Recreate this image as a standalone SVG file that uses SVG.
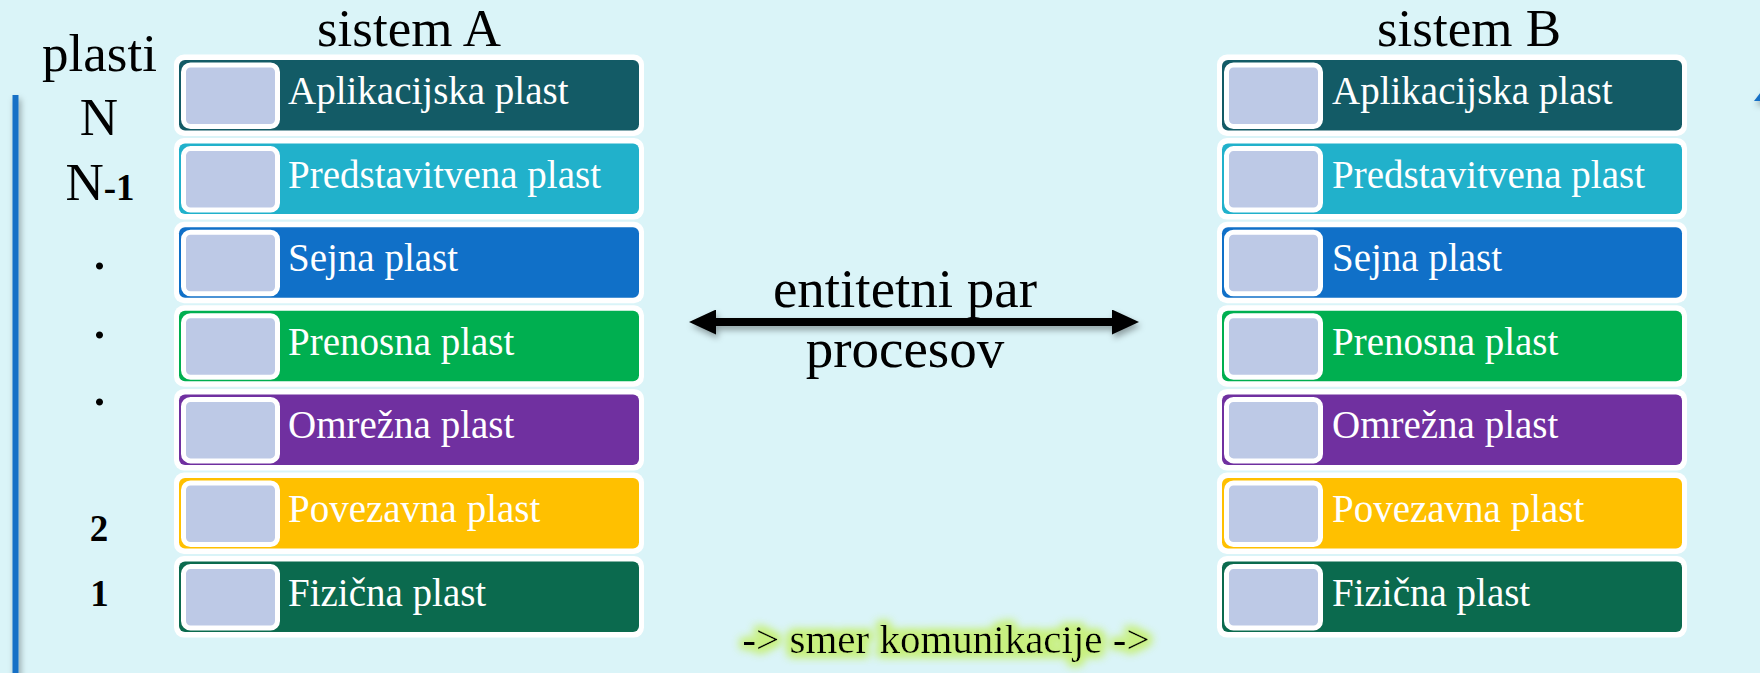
<svg xmlns="http://www.w3.org/2000/svg" width="1760" height="673" viewBox="0 0 1760 673">
<defs>
<style>
.bg{fill:#daf4f8}
.ring{fill:#ffffff}
.sq{fill:#bdc9e6;stroke:#ffffff;stroke-width:5}
.lbl{font-family:"Liberation Serif","Times New Roman",serif;font-size:39px;fill:#ffffff}
.big{font-family:"Liberation Serif","Times New Roman",serif;font-size:53px;fill:#000000}
.num{font-family:"Liberation Serif","Times New Roman",serif;font-size:37px;font-weight:bold;fill:#000000}
.c1{fill:#135b66}.c2{fill:#21b1cb}.c3{fill:#1070c8}.c4{fill:#00af50}.c5{fill:#7030a0}.c6{fill:#ffc000}.c7{fill:#0b6a4e}
</style>
<filter id="shadow" filterUnits="userSpaceOnUse" x="0" y="0" width="1760" height="673">
<feDropShadow dx="2" dy="4" stdDeviation="3" flood-color="#000" flood-opacity="0.35"/>
</filter>
<filter id="glow" x="-10%" y="-60%" width="120%" height="220%">
<feMorphology in="SourceAlpha" operator="dilate" radius="3" result="d"/>
<feGaussianBlur in="d" stdDeviation="5" result="b"/>
<feFlood flood-color="#c8f07f" result="f"/>
<feComposite in="f" in2="b" operator="in" result="g"/>
<feMerge><feMergeNode in="g"/><feMergeNode in="g"/><feMergeNode in="SourceGraphic"/></feMerge>
</filter>
<marker id="head" markerUnits="userSpaceOnUse" markerWidth="27" markerHeight="25" viewBox="0 0 27 25" refX="16" refY="12.5" orient="auto-start-reverse">
<path d="M0,0 L27,12.5 L0,25 z" fill="#000"/>
</marker>
</defs>
<rect class="bg" x="0" y="0" width="1760" height="673"/>

<g id="side-line" filter="url(#shadow)">
<line x1="15.5" y1="95" x2="15.5" y2="680" stroke="#1570c6" stroke-width="6"/>
<polygon points="1764,88 1754,101 1774,101" fill="#1570c6"/>
</g>

<g id="title-A"><text class="big" x="409" y="45.5" text-anchor="middle">sistem A</text></g>
<g id="title-B"><text class="big" x="1469" y="45.5" text-anchor="middle">sistem B</text></g>

<g id="layer-index">
<text class="big" x="99.5" y="71" text-anchor="middle">plasti</text>
<text class="big" x="99" y="135" text-anchor="middle">N</text>
<text class="big" x="100" y="200" text-anchor="middle">N<tspan class="num" style="font-size:37px">-1</tspan></text>
<text class="big" x="99.5" y="269" text-anchor="middle" style="font-size:60px">.</text>
<text class="big" x="99.5" y="338" text-anchor="middle" style="font-size:60px">.</text>
<text class="big" x="99.5" y="405" text-anchor="middle" style="font-size:60px">.</text>
<text class="num" x="99" y="541" text-anchor="middle">2</text>
<text class="num" x="99.5" y="606" text-anchor="middle">1</text>
</g>

<g id="stack-A">
<g id="A-app" transform="translate(179,60)"><rect class="ring" x="-5" y="-5.5" width="470" height="81.5" rx="10"/><rect class="c1" width="460" height="70.5" rx="6"/><rect class="sq" x="4.5" y="5" width="94" height="61.5" rx="7"/><text class="lbl" x="109" y="44">Aplikacijska plast</text></g>
<g id="A-pres" transform="translate(179,143.6)"><rect class="ring" x="-5" y="-5.5" width="470" height="81.5" rx="10"/><rect class="c2" width="460" height="70.5" rx="6"/><rect class="sq" x="4.5" y="5" width="94" height="61.5" rx="7"/><text class="lbl" x="109" y="44">Predstavitvena plast</text></g>
<g id="A-sess" transform="translate(179,227.2)"><rect class="ring" x="-5" y="-5.5" width="470" height="81.5" rx="10"/><rect class="c3" width="460" height="70.5" rx="6"/><rect class="sq" x="4.5" y="5" width="94" height="61.5" rx="7"/><text class="lbl" x="109" y="44">Sejna plast</text></g>
<g id="A-trans" transform="translate(179,310.8)"><rect class="ring" x="-5" y="-5.5" width="470" height="81.5" rx="10"/><rect class="c4" width="460" height="70.5" rx="6"/><rect class="sq" x="4.5" y="5" width="94" height="61.5" rx="7"/><text class="lbl" x="109" y="44">Prenosna plast</text></g>
<g id="A-net" transform="translate(179,394.4)"><rect class="ring" x="-5" y="-5.5" width="470" height="81.5" rx="10"/><rect class="c5" width="460" height="70.5" rx="6"/><rect class="sq" x="4.5" y="5" width="94" height="61.5" rx="7"/><text class="lbl" x="109" y="44">Omrežna plast</text></g>
<g id="A-link" transform="translate(179,478)"><rect class="ring" x="-5" y="-5.5" width="470" height="81.5" rx="10"/><rect class="c6" width="460" height="70.5" rx="6"/><rect class="sq" x="4.5" y="5" width="94" height="61.5" rx="7"/><text class="lbl" x="109" y="44">Povezavna plast</text></g>
<g id="A-phys" transform="translate(179,561.6)"><rect class="ring" x="-5" y="-5.5" width="470" height="81.5" rx="10"/><rect class="c7" width="460" height="70.5" rx="6"/><rect class="sq" x="4.5" y="5" width="94" height="61.5" rx="7"/><text class="lbl" x="109" y="44">Fizična plast</text></g>
</g>

<g id="stack-B">
<g id="B-app" transform="translate(1222,60)"><rect class="ring" x="-5" y="-5.5" width="470" height="81.5" rx="10"/><rect class="c1" width="460" height="70.5" rx="6"/><rect class="sq" x="4.5" y="5" width="94" height="61.5" rx="7"/><text class="lbl" x="110" y="44">Aplikacijska plast</text></g>
<g id="B-pres" transform="translate(1222,143.6)"><rect class="ring" x="-5" y="-5.5" width="470" height="81.5" rx="10"/><rect class="c2" width="460" height="70.5" rx="6"/><rect class="sq" x="4.5" y="5" width="94" height="61.5" rx="7"/><text class="lbl" x="110" y="44">Predstavitvena plast</text></g>
<g id="B-sess" transform="translate(1222,227.2)"><rect class="ring" x="-5" y="-5.5" width="470" height="81.5" rx="10"/><rect class="c3" width="460" height="70.5" rx="6"/><rect class="sq" x="4.5" y="5" width="94" height="61.5" rx="7"/><text class="lbl" x="110" y="44">Sejna plast</text></g>
<g id="B-trans" transform="translate(1222,310.8)"><rect class="ring" x="-5" y="-5.5" width="470" height="81.5" rx="10"/><rect class="c4" width="460" height="70.5" rx="6"/><rect class="sq" x="4.5" y="5" width="94" height="61.5" rx="7"/><text class="lbl" x="110" y="44">Prenosna plast</text></g>
<g id="B-net" transform="translate(1222,394.4)"><rect class="ring" x="-5" y="-5.5" width="470" height="81.5" rx="10"/><rect class="c5" width="460" height="70.5" rx="6"/><rect class="sq" x="4.5" y="5" width="94" height="61.5" rx="7"/><text class="lbl" x="110" y="44">Omrežna plast</text></g>
<g id="B-link" transform="translate(1222,478)"><rect class="ring" x="-5" y="-5.5" width="470" height="81.5" rx="10"/><rect class="c6" width="460" height="70.5" rx="6"/><rect class="sq" x="4.5" y="5" width="94" height="61.5" rx="7"/><text class="lbl" x="110" y="44">Povezavna plast</text></g>
<g id="B-phys" transform="translate(1222,561.6)"><rect class="ring" x="-5" y="-5.5" width="470" height="81.5" rx="10"/><rect class="c7" width="460" height="70.5" rx="6"/><rect class="sq" x="4.5" y="5" width="94" height="61.5" rx="7"/><text class="lbl" x="110" y="44">Fizična plast</text></g>
</g>

<g id="connectors" filter="url(#shadow)">
<line x1="700" y1="322" x2="1128" y2="322" stroke="#000" stroke-width="8" marker-start="url(#head)" marker-end="url(#head)"/>
</g>
<g id="connector-label">
<text class="big" x="905" y="307" text-anchor="middle" style="font-size:55px">entitetni par</text>
<text class="big" x="905" y="367" text-anchor="middle" style="font-size:55px">procesov</text>
</g>

<g id="direction-note" filter="url(#glow)">
<text class="big" x="946" y="653" text-anchor="middle" style="font-size:41px">-&gt; smer komunikacije -&gt;</text>
</g>
</svg>
